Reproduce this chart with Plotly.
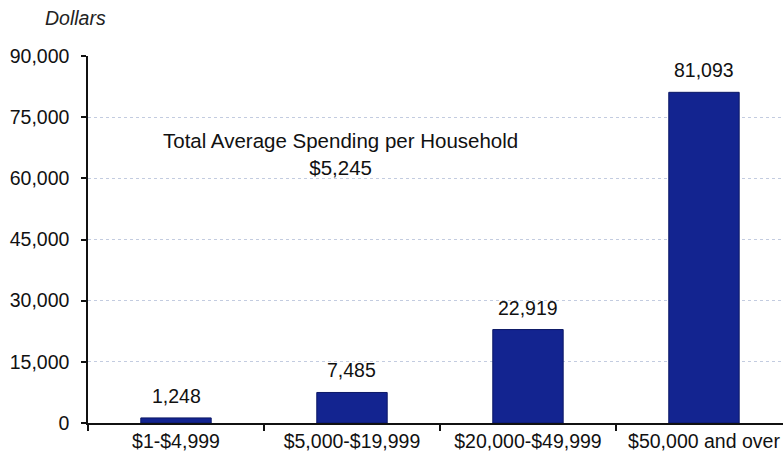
import plotly.graph_objects as go

# Average spending by household income bracket
categories = ["$1-$4,999", "$5,000-$19,999", "$20,000-$49,999", "$50,000 and over"]
spending = [1248, 7485, 22919, 81093]
y_ticks = [0, 15000, 30000, 45000, 60000, 75000, 90000]

FONT = "Liberation Sans, Arial, sans-serif"
FS = 19.5
BAR_COLOR = "#132490"

fig = go.Figure()
fig.add_trace(go.Bar(
    x=categories,
    y=spending,
    width=0.4,
    marker=dict(color=BAR_COLOR, line=dict(color="#0c1866", width=1)),
    hoverinfo="x+y",
))

# Value labels above each bar
for cat, v in zip(categories, spending):
    fig.add_annotation(
        x=cat, y=v, text=f"{v:,}", showarrow=False,
        xanchor="center", yanchor="bottom", yshift=9,
        font=dict(family=FONT, size=FS, color="#111111"),
    )

fig.add_annotation(
    x=0.932, y=65900, xref="x", yref="y",
    text="Total Average Spending per Household<br>$5,245",
    showarrow=False, xanchor="center", yanchor="middle",
    font=dict(family=FONT, size=20.5, color="#111111"),
)

# Axis unit caption above the plot
fig.add_annotation(
    xref="paper", yref="paper", x=(43 - 88) / 695, y=1 + (56 - 18) / 367,
    text="<i>Dollars</i>", showarrow=False, xanchor="left", yanchor="middle",
    font=dict(family=FONT, size=FS, color="#222222"),
)

fig.update_layout(
    width=783, height=464,
    margin=dict(l=88, r=0, t=56, b=41),
    paper_bgcolor="white", plot_bgcolor="white",
    showlegend=False,
    bargap=0.6,
    font=dict(family=FONT, size=FS, color="#111111"),
)

fig.update_xaxes(
    type="category",
    range=[-0.5, 3.449],
    showline=True, linecolor="#111111", linewidth=1.5,
    ticks="outside", tickson="boundaries", ticklen=6, tickcolor="#111111", tickwidth=1.5,
    showgrid=False, zeroline=False,
    tickfont=dict(family=FONT, size=FS, color="#111111"),
)

fig.update_yaxes(
    range=[0, 90000],
    tickvals=y_ticks,
    ticktext=[f"{t:,}" for t in y_ticks],
    showline=True, linecolor="#111111", linewidth=1.5,
    ticks="outside", ticklen=5, tickcolor="#111111", tickwidth=1.5,
    ticklabelstandoff=8,
    showgrid=True, gridcolor="#c3cce0", gridwidth=1, griddash="dot",
    zeroline=False,
    tickfont=dict(family=FONT, size=FS, color="#111111"),
)

fig.write_html("out.html")
